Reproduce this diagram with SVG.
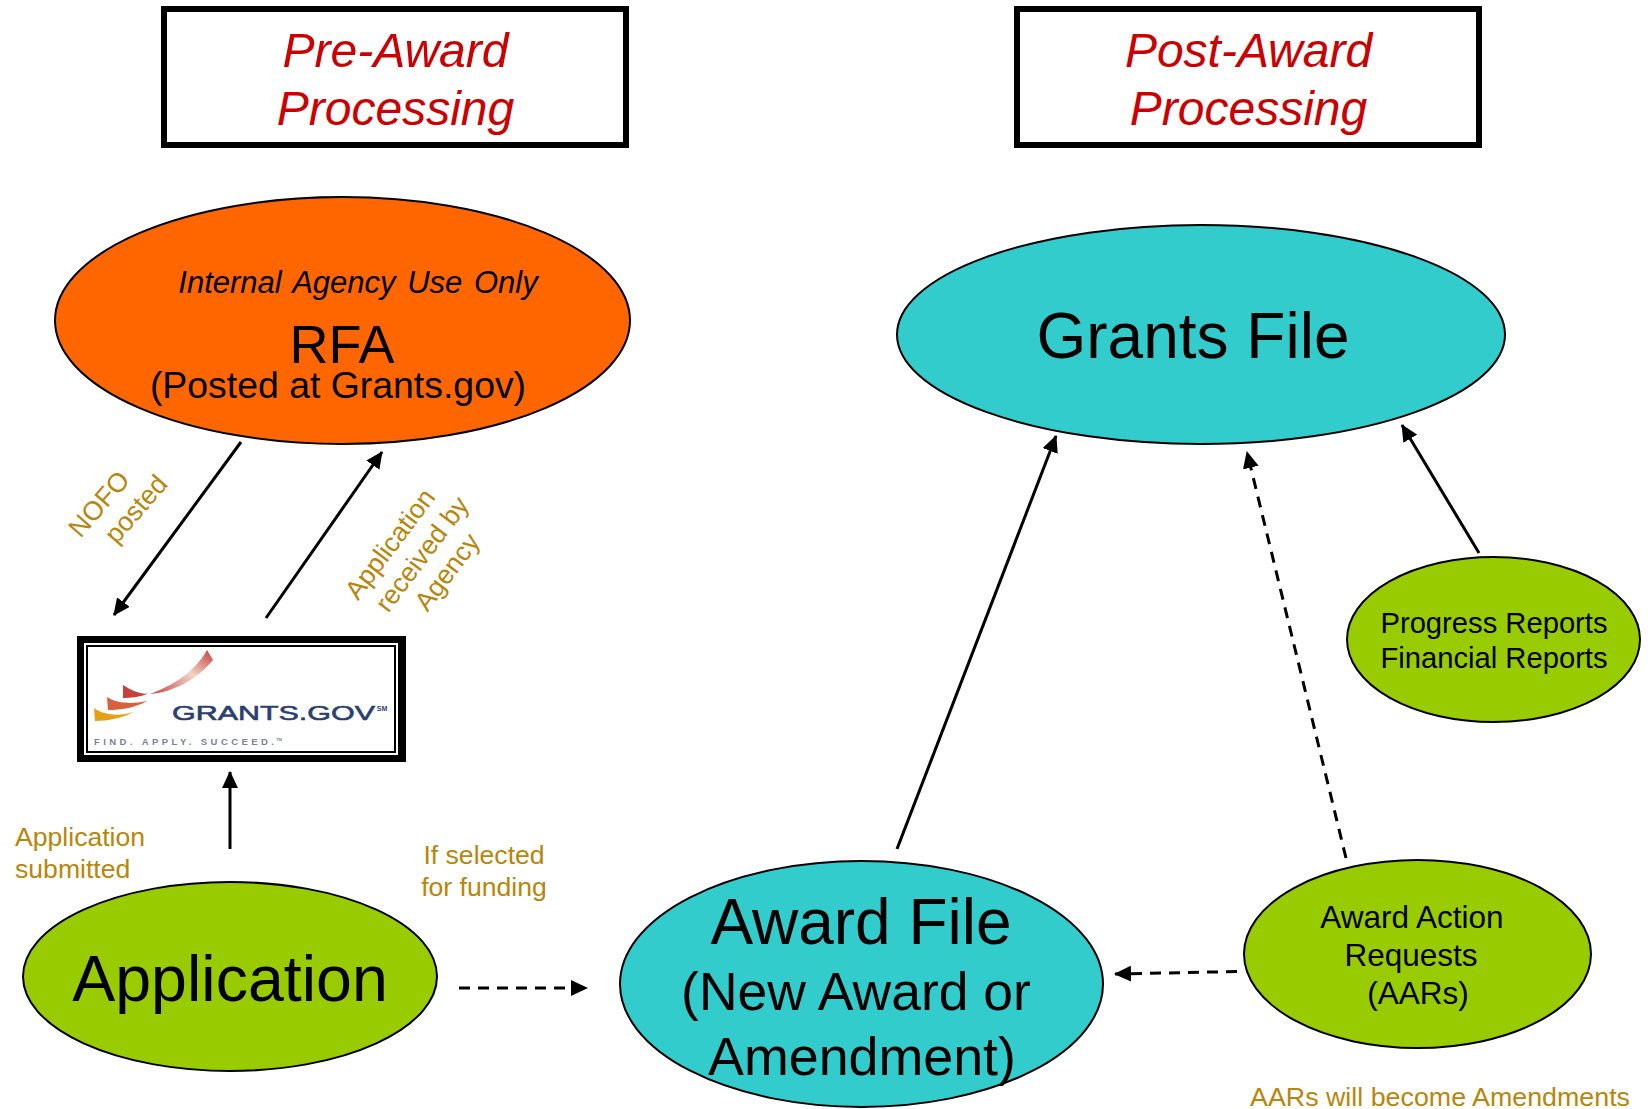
<svg xmlns="http://www.w3.org/2000/svg" width="1648" height="1109" viewBox="0 0 1648 1109">
<style>
text{font-family:"Liberation Sans",Arial,sans-serif;text-anchor:middle;fill:#000}
.n{stroke:#000;stroke-width:2}
.o{fill:#f60}.t{fill:#3cc}.g{fill:#9c0}
.h{fill:#fff;stroke:#000;stroke-width:6}
.ht{font-size:48px;font-style:italic;fill:#c00}
.l{font-size:26.600px;fill:#b8860b}
.c{stroke:#000;stroke-width:3;fill:none;marker-end:url(#a)}
.d{stroke-dasharray:11 8}
</style>
<defs>
<marker id="a" markerUnits="userSpaceOnUse" markerWidth="18" markerHeight="16" refX="16" refY="8" orient="auto"><path d="M0 0L17 8L0 16z" fill="#000"/></marker>
<linearGradient id="sw" x1="0" y1="1" x2="1" y2="0"><stop offset="0" stop-color="#c8403c"/><stop offset=".55" stop-color="#f3d5c8"/><stop offset="1" stop-color="#c83c38"/></linearGradient>
</defs>
<rect width="1648" height="1109" fill="#fff"/>
<g id="pre-award"><rect class="h" x="164" y="9" width="462" height="136"/><text class="ht" x="395.500" y="67" textLength="226" lengthAdjust="spacingAndGlyphs">Pre-Award</text><text class="ht" x="395.500" y="125">Processing</text></g>
<g id="post-award"><rect class="h" x="1017" y="9" width="462" height="136"/><text class="ht" x="1248.500" y="67">Post-Award</text><text class="ht" x="1248.500" y="125">Processing</text></g>
<g id="rfa"><ellipse class="n o" cx="342.500" cy="320.500" rx="287.500" ry="123.500"/><text x="358" y="293" font-size="31" font-style="italic" word-spacing="3">Internal Agency Use Only</text><text x="342" y="363" font-size="54">RFA</text><text x="338" y="398" font-size="37.400">(Posted at Grants.gov)</text></g>
<g id="grants-file"><ellipse class="n t" cx="1201" cy="334.500" rx="304" ry="109.500"/><text x="1193" y="358" font-size="64">Grants File</text></g>
<g id="progress"><ellipse class="n g" cx="1493.500" cy="639.500" rx="146.500" ry="82.500"/><text x="1494" y="633" font-size="29.200">Progress Reports</text><text x="1494" y="668" font-size="29.200">Financial Reports</text></g>
<g id="aars"><ellipse class="n g" cx="1417.500" cy="954" rx="173.500" ry="94"/><text x="1412" y="928" font-size="31.500">Award Action</text><text x="1411" y="966" font-size="31.500">Requests</text><text x="1418" y="1004" font-size="31.500">(AARs)</text></g>
<g id="award-file"><ellipse class="n t" cx="861.500" cy="984" rx="241.500" ry="123"/><text x="861" y="944" font-size="64">Award File</text><text x="856" y="1010" font-size="53.500">(New Award or</text><text x="862" y="1075" font-size="53.800">Amendment)</text></g>
<g id="application"><ellipse class="n g" cx="230" cy="976.500" rx="207" ry="94.500"/><text x="230" y="1001" font-size="64.500">Application</text></g>
<g id="grants-gov">
<rect x="77" y="636" width="329" height="126" fill="#000"/>
<rect x="84" y="643" width="314" height="112" fill="#fff"/>
<rect x="86" y="645" width="310" height="108" fill="#000"/>
<rect x="88" y="647" width="306" height="104" fill="#fff"/>
<path d="M207 650L213 660C198 678 175 692 150 694C172 686 195 672 207 650Z" fill="url(#sw)"/>
<path d="M123 685C132 691 140 694 150 694L147 694C140 697 130 698 123 698Z" fill="#c8403c"/>
<path d="M107 697C118 704 132 704 147 701C135 708 120 710 108 710Z" fill="#d8603c"/>
<path d="M94 708C105 716 120 716 134 712C122 718 108 721 95 721Z" fill="#e6a015"/>
<text x="273.500" y="720" font-size="21" style="fill:#2a3f70;stroke:#2a3f70;stroke-width:.6" textLength="203" lengthAdjust="spacingAndGlyphs">GRANTS.GOV</text>
<text x="382" y="711" font-size="7" font-weight="bold" style="fill:#2a3f70">SM</text>
<text x="94" y="745" font-size="9.500" font-weight="bold" style="fill:#7a829c;text-anchor:start" textLength="180" lengthAdjust="spacing">FIND. APPLY. SUCCEED.</text>
<text x="279" y="741" font-size="4" font-weight="bold" style="fill:#7a829c">TM</text>
</g>
<g id="connectors">
<path class="c" d="M241 442L114 615"/>
<path class="c" d="M266 618L382 452"/>
<path class="c" d="M230 849V772"/>
<path class="c d" d="M459 988H587"/>
<path class="c d" d="M1237 971.500L1115 974"/>
<path class="c" d="M897 849L1056 436"/>
<path class="c d" d="M1346 858L1247 452"/>
<path class="c" d="M1479 553L1402 425"/>
</g>
<g id="labels">
<text class="l" transform="translate(99 504) rotate(-49)" y="9">NOFO</text>
<text class="l" transform="translate(136 509) rotate(-49)" y="9">posted</text>
<text class="l" transform="translate(390 544) rotate(-53)" y="9">Application</text>
<text class="l" transform="translate(422 554) rotate(-53)" y="9">received by</text>
<text class="l" transform="translate(447 572) rotate(-53)" y="9">Agency</text>
<text class="l" x="15" y="846" style="text-anchor:start">Application</text>
<text class="l" x="15" y="878" style="text-anchor:start">submitted</text>
<text class="l" x="484" y="864">If selected</text>
<text class="l" x="484" y="896">for funding</text>
<text class="l" x="1630" y="1106" style="text-anchor:end" textLength="380" lengthAdjust="spacingAndGlyphs">AARs will become Amendments</text>
</g>
</svg>
